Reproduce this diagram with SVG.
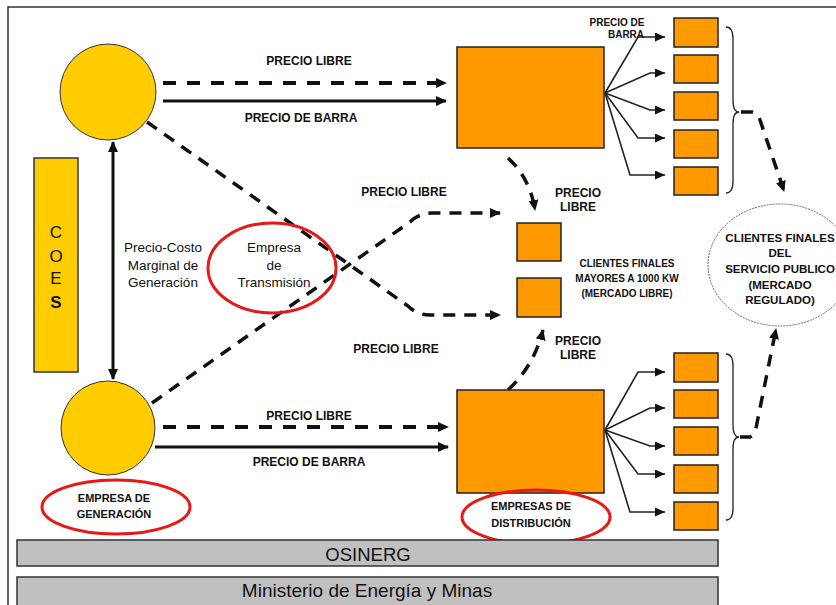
<svg xmlns="http://www.w3.org/2000/svg" width="836" height="605" viewBox="0 0 836 605">
<style>
  .lbl{font-family:"Liberation Sans",Arial,sans-serif;font-weight:bold;fill:#111;text-anchor:middle}
  .reg{font-family:"Liberation Sans",Arial,sans-serif;fill:#111;text-anchor:middle}
  .dash{fill:none;stroke:#111;stroke-width:4;stroke-dasharray:13 11}
  .dash2{fill:none;stroke:#111;stroke-width:3.5;stroke-dasharray:12 9}
  .solid{fill:none;stroke:#111;stroke-width:3}
  .fan{fill:none;stroke:#222;stroke-width:1.6}
  .box{fill:#FF9900;stroke:#222;stroke-width:1.5}
  .gen{fill:#FFCC00;stroke:#333;stroke-width:1}
  .red{fill:none;stroke:#E81818;stroke-width:3}
  .bar{fill:#C0C0C0;stroke:#333;stroke-width:1.5}
  .brace{fill:none;stroke:#222;stroke-width:1.3}
</style>
<defs>
  <marker id="ah" markerUnits="userSpaceOnUse" markerWidth="12" markerHeight="12" refX="10" refY="5" orient="auto">
    <path d="M0,0 L11,5 L0,10 z" fill="#111"/>
  </marker>
  <marker id="ahs" markerUnits="userSpaceOnUse" markerWidth="12" markerHeight="12" refX="10" refY="4.5" orient="auto">
    <path d="M0,0 L10,4.5 L0,9 z" fill="#111"/>
  </marker>
  <marker id="ahb" markerUnits="userSpaceOnUse" markerWidth="12" markerHeight="12" refX="1" refY="5" orient="auto">
    <path d="M11,0 L0,5 L11,10 z" fill="#111"/>
  </marker>
</defs>

<!-- frame -->
<path d="M8,605 V7 H836" fill="none" stroke="#333" stroke-width="1.5"/>

<g id="connectors">
  <line class="dash" x1="163" y1="83" x2="446" y2="83" marker-end="url(#ah)"/>
  <line class="solid" x1="163" y1="101" x2="446" y2="101" marker-end="url(#ah)"/>
  <line class="dash" x1="163" y1="427" x2="448" y2="427" marker-end="url(#ah)"/>
  <line class="solid" x1="155" y1="447" x2="448" y2="447" marker-end="url(#ah)"/>
  <line class="solid" x1="113" y1="142" x2="113" y2="379" stroke-width="2.5" marker-start="url(#ahb)" marker-end="url(#ah)"/>
  <path class="dash2" d="M147,122 L408,306 Q417,315 430,315 L500,315" marker-end="url(#ah)"/>
  <path class="dash2" d="M152,403 L410,222 Q419,213 432,213 L500,213" marker-end="url(#ah)"/>
  <path class="dash2" d="M508,158 Q530,178 535,210" marker-end="url(#ah)"/>
  <path class="dash2" d="M508,390 Q534,366 543,330" marker-end="url(#ah)"/>
  <polyline class="fan" points="605,93 638,37 665,37" marker-end="url(#ahs)"/>
  <polyline class="fan" points="605,93 650,73 665,73" marker-end="url(#ahs)"/>
  <polyline class="fan" points="605,93 650,110 665,110" marker-end="url(#ahs)"/>
  <polyline class="fan" points="605,93 638,138 665,138" marker-end="url(#ahs)"/>
  <polyline class="fan" points="605,93 630,175 665,175" marker-end="url(#ahs)"/>
  <polyline class="fan" points="605,430 638,372 665,372" marker-end="url(#ahs)"/>
  <polyline class="fan" points="605,430 650,408 665,408" marker-end="url(#ahs)"/>
  <polyline class="fan" points="605,430 650,446 665,446" marker-end="url(#ahs)"/>
  <polyline class="fan" points="605,430 638,474 665,474" marker-end="url(#ahs)"/>
  <polyline class="fan" points="605,430 630,512 665,512" marker-end="url(#ahs)"/>
  <path class="brace" d="M726,27 Q733,27 733,39 L733,100 Q733,112 739,112 Q733,112 733,124 L733,181 Q733,193 726,193"/>
  <path class="brace" d="M726,354 Q733,354 733,366 L733,425 Q733,437 739,437 Q733,437 733,449 L733,508 Q733,520 726,520"/>
  <path class="dash2" d="M741,112 L752,112 Q758,113 760,120 L784,191" marker-end="url(#ah)"/>
  <path class="dash2" d="M740,437 L750,437 Q754,436 756,428 L776,329" marker-end="url(#ah)"/>
</g>

<g id="labels">
  <text class="lbl" x="309" y="65" font-size="12">PRECIO LIBRE</text>
  <text class="lbl" x="301" y="122" font-size="12">PRECIO DE BARRA</text>
  <text class="lbl" x="309" y="420" font-size="12">PRECIO LIBRE</text>
  <text class="lbl" x="309" y="466" font-size="12">PRECIO DE BARRA</text>
  <text class="lbl" x="404" y="196" font-size="12">PRECIO LIBRE</text>
  <text class="lbl" x="396" y="353" font-size="12">PRECIO LIBRE</text>
  <text class="lbl" x="578" y="197" font-size="12">PRECIO</text>
  <text class="lbl" x="578" y="211" font-size="12">LIBRE</text>
  <text class="lbl" x="578" y="345" font-size="12">PRECIO</text>
  <text class="lbl" x="578" y="359" font-size="12">LIBRE</text>
  <text class="lbl" x="617" y="26" font-size="10">PRECIO DE</text>
  <text class="lbl" x="626" y="38" font-size="10">BARRA</text>
  <text class="reg" x="163" y="252" font-size="13.5">Precio-Costo</text>
  <text class="reg" x="163" y="270" font-size="13.5">Marginal de</text>
  <text class="reg" x="163" y="287" font-size="13.5">Generación</text>
</g>

<g id="coes">
  <rect x="34" y="158" width="44" height="214" fill="#FFCC00" stroke="#333" stroke-width="1.5"/>
  <text class="reg" x="56" y="238" font-size="17">C</text>
  <text class="reg" x="56" y="262" font-size="17">O</text>
  <text class="reg" x="56" y="284" font-size="17">E</text>
  <text class="reg" x="56" y="308" font-size="17" font-weight="bold">S</text>
</g>

<g id="gen-top"><circle class="gen" cx="108" cy="92" r="48"/></g>
<g id="gen-bottom"><circle class="gen" cx="108" cy="428" r="47"/></g>

<g id="empresa-generacion">
  <ellipse class="red" cx="116" cy="507" rx="74" ry="27"/>
  <text class="lbl" x="114" y="502" font-size="11">EMPRESA DE</text>
  <text class="lbl" x="114" y="518" font-size="11">GENERACIÓN</text>
</g>

<g id="empresa-transmision">
  <ellipse class="red" cx="272" cy="268" rx="64" ry="45"/>
  <text class="reg" x="274" y="252" font-size="13.5">Empresa</text>
  <text class="reg" x="274" y="270" font-size="13.5">de</text>
  <text class="reg" x="274" y="287" font-size="13.5">Transmisión</text>
</g>

<g id="dist-top"><rect class="box" x="457" y="47" width="147" height="101"/></g>
<g id="dist-bottom"><rect class="box" x="457" y="390" width="147" height="103"/></g>

<g id="empresas-distribucion">
  <ellipse class="red" cx="536" cy="517" rx="74" ry="27"/>
  <text class="lbl" x="531" y="510" font-size="11">EMPRESAS DE</text>
  <text class="lbl" x="531" y="527" font-size="11">DISTRIBUCIÓN</text>
</g>

<g id="clients-top">
  <rect class="box" x="674" y="18" width="44" height="29"/>
  <rect class="box" x="674" y="55" width="44" height="28"/>
  <rect class="box" x="674" y="92" width="44" height="28"/>
  <rect class="box" x="674" y="130" width="44" height="28"/>
  <rect class="box" x="674" y="167" width="44" height="28"/>
</g>
<g id="clients-bottom">
  <rect class="box" x="674" y="353" width="44" height="29"/>
  <rect class="box" x="674" y="390" width="44" height="28"/>
  <rect class="box" x="674" y="427" width="44" height="28"/>
  <rect class="box" x="674" y="465" width="44" height="28"/>
  <rect class="box" x="674" y="502" width="44" height="28"/>
</g>

<g id="clientes-libres">
  <rect class="box" x="517" y="223" width="44" height="38"/>
  <rect class="box" x="517" y="278" width="44" height="39"/>
  <text class="lbl" x="627" y="267" font-size="10">CLIENTES FINALES</text>
  <text class="lbl" x="627" y="282" font-size="10">MAYORES A 1000 KW</text>
  <text class="lbl" x="627" y="297" font-size="10">(MERCADO LIBRE)</text>
</g>

<g id="mercado-regulado">
  <ellipse cx="780" cy="265" rx="72" ry="61" fill="#fff" stroke="#666" stroke-width="1" stroke-dasharray="2 1"/>
  <text class="lbl" x="780" y="242" font-size="11.5">CLIENTES FINALES</text>
  <text class="lbl" x="780" y="257" font-size="11.5">DEL</text>
  <text class="lbl" x="780" y="273" font-size="11.5">SERVICIO PUBLICO</text>
  <text class="lbl" x="780" y="289" font-size="11.5">(MERCADO</text>
  <text class="lbl" x="780" y="304" font-size="11.5">REGULADO)</text>
</g>

<g id="osinerg">
  <rect class="bar" x="17" y="540" width="701" height="26"/>
  <text class="reg" x="368" y="561" font-size="18.5">OSINERG</text>
</g>
<g id="ministerio">
  <rect class="bar" x="17" y="577" width="701" height="30"/>
  <text class="reg" x="367" y="597" font-size="19">Ministerio de Energía y Minas</text>
</g>
</svg>
